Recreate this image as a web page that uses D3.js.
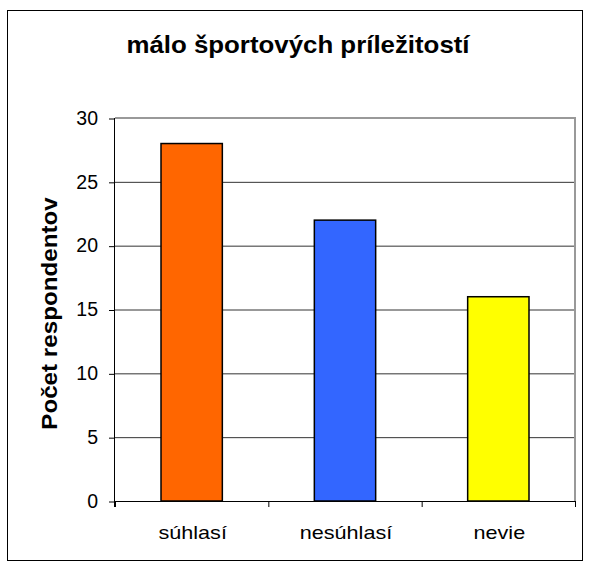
<!DOCTYPE html>
<html><head><meta charset="utf-8">
<script src="https://cdn.jsdelivr.net/npm/d3@7"></script>
<style>body{margin:0;background:#fff;}svg{display:block;font-family:"Liberation Sans",Arial,sans-serif;}</style>
</head><body>
<svg id="c" width="589" height="567"></svg>
<script>
const categories = ["súhlasí", "nesúhlasí", "nevie"];
const values = [28, 22, 16];
const colors = ["#FF6600", "#3366FF", "#FFFF00"];
const yTicks = [0, 5, 10, 15, 20, 25, 30];
const title = "málo športových príležitostí";
const yTitle = "Počet respondentov";

const svg = d3.select("#c");
svg.append("rect").attr("x", 7.5).attr("y", 10.5).attr("width", 575).attr("height", 550)
  .attr("fill", "#fff").attr("stroke", "#000").attr("stroke-width", 1);

const L = 115, R = 575, T = 118, B = 501;
const x = d3.scaleBand().domain(categories).range([L, R]).paddingInner(0.6).paddingOuter(0.3);
const xb = d3.scaleBand().domain(categories).range([L, R]);
const y = d3.scaleLinear().domain([0, 30]).range([B, T]);

// gridlines
svg.append("g").selectAll("line").data(yTicks.filter(d => d > 0 && d < 30)).join("line")
  .attr("x1", L).attr("x2", R).attr("y1", d => y(d) + 0.5).attr("y2", d => y(d) + 0.5)
  .attr("stroke", "#333").attr("stroke-width", 1);
// plot border (top/right)
svg.append("path").attr("d", `M${L},${T}H${R}V${B}`).attr("fill", "none")
  .attr("stroke", "#999").attr("stroke-width", 2);

// bars
svg.append("g").selectAll("rect").data(values).join("rect")
  .attr("x", (d, i) => x(categories[i])).attr("width", x.bandwidth())
  .attr("y", d => y(d)).attr("height", d => y(0) - y(d))
  .attr("fill", (d, i) => colors[i]).attr("stroke", "#000").attr("stroke-width", 1.5);

// y axis
const ya = svg.append("g").attr("transform", `translate(${L},0)`)
  .call(d3.axisLeft(y).tickValues(yTicks).tickSize(6).tickPadding(11));
ya.select(".domain").attr("stroke", "#000").attr("d", `M-0.5,${T}V${B + 6}`);
ya.selectAll(".tick line").attr("stroke", "#000").attr("transform", "translate(0,0.5)");
ya.selectAll("text").attr("font-size", 19.5).attr("fill", "#000").attr("font-family", "Liberation Sans, Arial, sans-serif");

// x axis
const xa = svg.append("g").attr("transform", `translate(0,${B})`);
xa.append("line").attr("x1", L).attr("x2", R).attr("y1", 0.5).attr("y2", 0.5).attr("stroke", "#000");
const bounds = categories.map(c => xb(c)).concat([R]);
xa.selectAll("line.t").data(bounds).join("line").attr("class", "t")
  .attr("x1", d => d + 0.5).attr("x2", d => d + 0.5).attr("y1", 0).attr("y2", 6).attr("stroke", "#000");
xa.selectAll("text").data(categories).join("text")
  .attr("transform", d => `translate(${xb(d) + xb.bandwidth() / 2 + 1},38) scale(1.2,1)`)
  .attr("text-anchor", "middle").attr("font-size", 18).attr("fill", "#000").text(d => d);

// titles
svg.append("text").attr("transform", "translate(298,53) scale(1.1,1)").attr("text-anchor", "middle")
  .attr("font-size", 23.5).attr("font-weight", "bold").text(title);
svg.append("text").attr("transform", `translate(57,313.5) rotate(-90) scale(1.1,1)`)
  .attr("text-anchor", "middle").attr("font-size", 22).attr("font-weight", "bold").text(yTitle);
</script>
</body></html>
